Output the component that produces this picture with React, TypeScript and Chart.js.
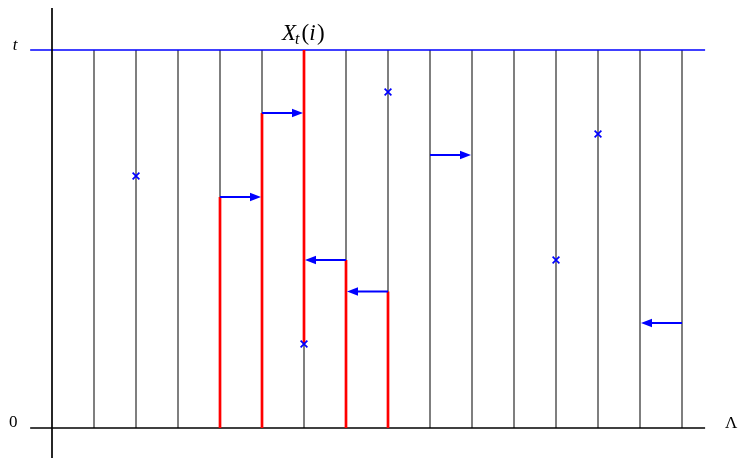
import React, { useEffect, useRef } from "react";
import { Chart, registerables } from "chart.js";

Chart.register(...registerables);

// ---- data ----
const laneX = [1, 2, 3, 4, 5, 6, 7, 8, 9, 10, 11, 12, 13, 14, 15];
const T = 9;
const axisXMin = -0.52;
const axisXMax = 15.55;
const axisYMin = -0.72;
const axisYMax = 10;

const redX = [4, 5, 6, 7, 8];
const redLow = [0, 0, 2, 0, 0];
const redHigh = [5.5, 7.5, 9, 4, 3.25];

const arrowFrom = [4, 5, 7, 8, 9, 15];
const arrowTo = [5, 6, 6, 7, 10, 14];
const arrowY = [5.5, 7.5, 4, 3.25, 6.5, 2.5];

const crossX = [2, 8, 13, 12, 6];
const crossY = [6, 8, 7, 4, 2];

const labelT = "t";
const labelZero = "0";
const labelLambda = "Λ";

const BLUE = "#0000ff";
const RED = "#ff0000";

const textPlugin = {
  id: "texts",
  afterDatasetsDraw(chart: any) {
    const { ctx, scales } = chart;
    const xs = scales.x;
    const ys = scales.y;
    // arrowheads
    ctx.save();
    ctx.fillStyle = BLUE;
    for (let i = 0; i < arrowFrom.length; i++) {
      const x1 = xs.getPixelForValue(arrowTo[i]);
      const x0 = xs.getPixelForValue(arrowFrom[i]);
      const y = ys.getPixelForValue(arrowY[i]);
      const dir = x1 > x0 ? 1 : -1;
      const tip = x1 - dir * 1;
      ctx.beginPath();
      ctx.moveTo(tip, y);
      ctx.lineTo(tip - dir * 11, y - 4.2);
      ctx.lineTo(tip - dir * 11, y + 4.2);
      ctx.closePath();
      ctx.fill();
    }
    ctx.restore();

    ctx.save();
    ctx.fillStyle = "#000";
    ctx.textBaseline = "middle";
    ctx.textAlign = "center";
    ctx.font = "italic 17px 'Liberation Serif'";
    ctx.fillText(labelT, xs.getPixelForValue(-0.88), ys.getPixelForValue(T) - 4);
    ctx.font = "17px 'Liberation Serif'";
    ctx.fillText(labelZero, xs.getPixelForValue(-0.92), ys.getPixelForValue(0) - 5);
    ctx.fillText(labelLambda, xs.getPixelForValue(16.17), ys.getPixelForValue(0) - 4);

    // X_t(i)
    const cx = xs.getPixelForValue(6);
    const base = ys.getPixelForValue(T) - 10;
    ctx.textAlign = "left";
    ctx.textBaseline = "alphabetic";
    let x = cx - 22;
    ctx.font = "italic 23px 'Liberation Serif'";
    ctx.fillText("X", x, base);
    x += ctx.measureText("X").width - 1;
    ctx.font = "italic 16px 'Liberation Serif'";
    ctx.fillText("t", x, base + 4);
    x += ctx.measureText("t").width + 2;
    ctx.font = "23px 'Liberation Serif'";
    ctx.fillText("(", x, base);
    x += ctx.measureText("(").width;
    ctx.font = "italic 23px 'Liberation Serif'";
    ctx.fillText("i", x, base);
    x += ctx.measureText("i").width + 1.5;
    ctx.font = "23px 'Liberation Serif'";
    ctx.fillText(")", x, base);
    ctx.restore();
  },
};

function seg(data: { x: number; y: number }[], color: string, width: number) {
  return {
    type: "scatter" as const,
    data,
    showLine: true,
    borderColor: color,
    backgroundColor: color,
    borderWidth: width,
    pointRadius: 0,
    pointHoverRadius: 0,
    borderCapStyle: "butt",
  };
}

export default function App() {
  const ref = useRef<HTMLCanvasElement | null>(null);
  useEffect(() => {
    document.body.style.margin = "0";
    if (!ref.current) return;
    const datasets: any[] = [];
    laneX.forEach((lx) =>
      datasets.push(seg([{ x: lx, y: 0 }, { x: lx, y: T }], "#333333", 1.25))
    );
    datasets.push(seg([{ x: axisXMin, y: T }, { x: axisXMax, y: T }], BLUE, 1.3));
    datasets.push(seg([{ x: axisXMin, y: 0 }, { x: axisXMax, y: 0 }], "#000", 1.7));
    datasets.push(seg([{ x: 0, y: axisYMin }, { x: 0, y: axisYMax }], "#000", 1.7));
    redX.forEach((rx, i) =>
      datasets.push(seg([{ x: rx, y: redLow[i] }, { x: rx, y: redHigh[i] }], RED, 2.7))
    );
    arrowFrom.forEach((af, i) => {
      const dir = arrowTo[i] > af ? 1 : -1;
      datasets.push(
        seg([{ x: af, y: arrowY[i] }, { x: arrowTo[i] - dir * 0.15, y: arrowY[i] }], BLUE, 2)
      );
    });
    datasets.push({
      type: "scatter",
      data: crossX.map((cx, i) => ({ x: cx, y: crossY[i] })),
      showLine: false,
      pointStyle: "crossRot",
      pointRadius: 4.8,
      borderColor: BLUE,
      borderWidth: 1.7,
    });
    // Chart.js draws lower-index datasets on top; reverse so later ones are on top
    datasets.reverse();

    const chart = new Chart(ref.current, {
      type: "scatter",
      data: { datasets },
      options: {
        animation: false,
        responsive: false,
        maintainAspectRatio: false,
        layout: { padding: 0, autoPadding: false },
        plugins: { legend: { display: false }, tooltip: { enabled: false } },
        events: [],
        scales: {
          x: { type: "linear", display: false, min: -52 / 42, max: 688 / 42 },
          y: { type: "linear", display: false, min: -30 / 42, max: 428 / 42 },
        },
      },
      plugins: [textPlugin],
    });
    return () => chart.destroy();
  }, []);
  return (
    <div style={{ width: 740, height: 458, background: "#fff" }}>
      <canvas ref={ref} width={740} height={458} style={{ display: "block" }} />
    </div>
  );
}
